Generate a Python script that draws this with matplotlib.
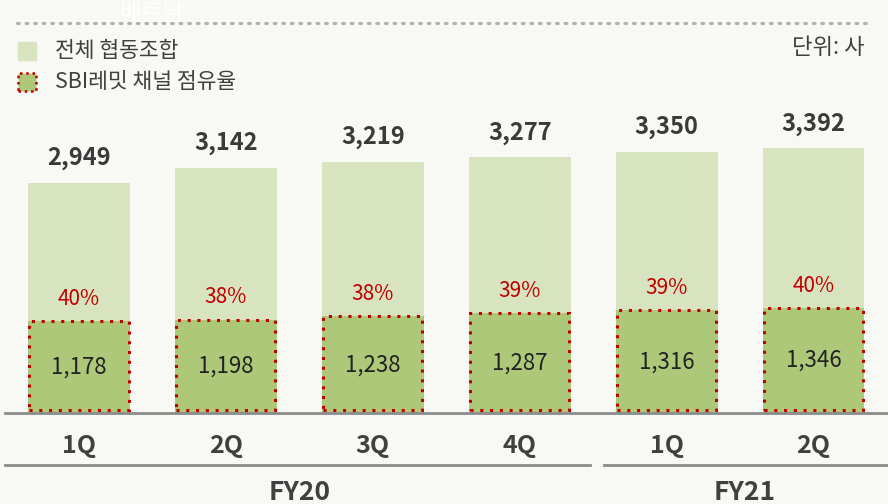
import matplotlib.pyplot as plt
from matplotlib.lines import Line2D
from matplotlib.patches import Rectangle

plt.rcParams['font.family'] = ['Noto Sans CJK KR', 'DejaVu Sans']

# data
quarters = ["1Q", "2Q", "3Q", "4Q", "1Q", "2Q"]
years = ["FY20", "FY21"]
total_coops = [2949, 3142, 3219, 3277, 3350, 3392]
sbi_coops = [1178, 1198, 1238, 1287, 1316, 1346]
sbi_share = ["40%", "38%", "38%", "39%", "39%", "40%"]

bg = "#f8f9f5"
light_green = "#d8e4bf"
mid_green = "#adc878"
red = "#c00000"
dark = "#3a3a3a"

W, H = 888, 504
fig = plt.figure(figsize=(W / 100, H / 100), dpi=100, facecolor=bg)

# axes: baseline at y=413px, full width
ax = fig.add_axes([0, (H - 413) / H, 1, 313 / H])
ax.set_facecolor("none")
step = 146.9
x0 = 79
ax.set_xlim(-x0 / step, (W - x0) / step)
ax.set_ylim(0, 313 / 0.078)
for s in ax.spines.values():
    s.set_visible(False)
ax.set_xticks([])
ax.set_yticks([])

xs = list(range(len(quarters)))
width = 0.694
ax.bar(xs, total_coops, width=width, color=light_green, zorder=1)
ax.bar(xs, sbi_coops, width=width, color=mid_green, zorder=2)

for x, t, s, p in zip(xs, total_coops, sbi_coops, sbi_share):
    # dotted red outline around the SBI bar
    ax.add_patch(Rectangle((x - width / 2 + 0.01, 40), width - 0.02, s - 40,
                           fill=False, edgecolor=red, linestyle=(0, (1, 2.2)),
                           linewidth=2.2, zorder=3))
    ax.annotate(f"{t:,}", (x, t), xytext=(0, 9), textcoords="offset points",
                ha="center", va="bottom", fontsize=17, fontweight="bold",
                color=dark)
    ax.annotate(p, (x, s), xytext=(0, 8), textcoords="offset points",
                ha="center", va="bottom", fontsize=15, color=red)
    ax.text(x, s / 2, f"{s:,}", ha="center", va="center", fontsize=16,
            color="#222222", zorder=4)

# baseline
fig.add_artist(Line2D([5 / W, 1], [(H - 413) / H] * 2, color="#8c8c8c", lw=2))

# quarter labels
for x, q in zip(xs, quarters):
    px = x0 + step * x
    fig.text(px / W, (H - 446) / H, q, ha="center", va="center", fontsize=18,
             fontweight="bold", color="#404040")

# year separators and labels
fig.add_artist(Line2D([5 / W, 590 / W], [(H - 465) / H] * 2, color="#8c8c8c", lw=2))
fig.add_artist(Line2D([604 / W, 1], [(H - 465) / H] * 2, color="#8c8c8c", lw=2))
fig.text(300 / W, (H - 492) / H, years[0], ha="center", va="center",
         fontsize=19, fontweight="bold", color="#404040")
fig.text(745 / W, (H - 492) / H, years[1], ha="center", va="center",
         fontsize=19, fontweight="bold", color="#404040")

# top dotted line and faint title
fig.add_artist(Line2D([17 / W, 872 / W], [(H - 23) / H] * 2, color="#b0b0b0",
                      lw=2.2, linestyle=(0, (0.6, 2.2)), dash_capstyle="round"))
fig.text(152 / W, (H - 14) / H, "베트남", ha="center", va="center",
         fontsize=17, color="white")

# legend
fig.add_artist(Rectangle((18 / W, (H - 60) / H), 18 / W, 18 / H,
                         transform=fig.transFigure, color=light_green))
fig.text(55 / W, (H - 51) / H, "전체 협동조합", ha="left", va="center",
         fontsize=15.5, color="#404040")
fig.add_artist(Rectangle((18 / W, (H - 91) / H), 18 / W, 18 / H,
                         transform=fig.transFigure, facecolor=mid_green,
                         edgecolor=red, linestyle=(0, (1, 1.5)), lw=1.8))
fig.text(55 / W, (H - 82) / H, "SBI레밋 채널 점유율", ha="left", va="center",
         fontsize=15.5, color="#404040")

fig.text(865 / W, (H - 47) / H, "단위: 사", ha="right", va="center",
         fontsize=16, color="#404040")

fig.savefig("out.png", dpi=100, facecolor=bg)
